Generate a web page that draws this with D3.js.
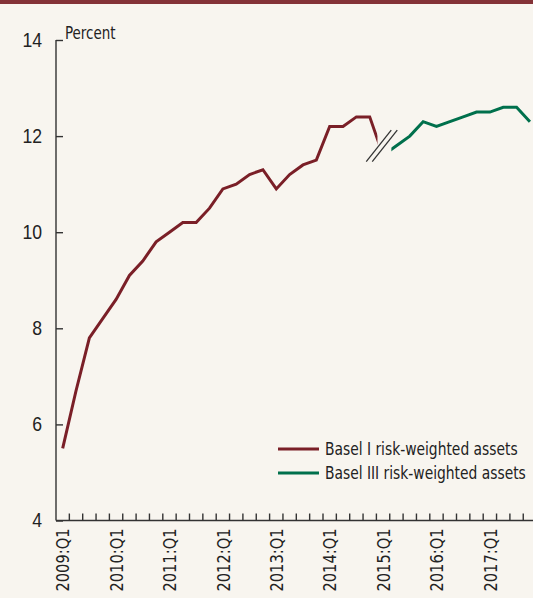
<!DOCTYPE html>
<html>
<head>
<meta charset="utf-8">
<script src="https://cdn.jsdelivr.net/npm/d3@7"></script>
<style>
  body { margin: 0; background: #f8f5ef; }
  svg { display: block; font-family: "Liberation Sans Narrow", "DejaVu Sans Condensed", "Roboto Condensed", sans-serif; }
  .axis path, .axis line { stroke: #333; stroke-width: 1.4; }
  text { fill: #222; }
</style>
</head>
<body>
<svg id="chart"></svg>
<script>
// quarters 2009:Q1 .. 2017:Q4
const years = [2009, 2010, 2011, 2012, 2013, 2014, 2015, 2016, 2017];
const quarters = years.flatMap(y => [1, 2, 3, 4].map(q => y + ':Q' + q));

// Basel I, 2009:Q1 .. 2015:Q1 (last point is cut by the break)
const basel1 = [5.5, 6.7, 7.8, 8.2, 8.6, 9.1, 9.4, 9.8, 10.0, 10.2, 10.2, 10.5,
                10.9, 11.0, 11.2, 11.3, 10.9, 11.2, 11.4, 11.5, 12.2, 12.2, 12.4, 12.4, 11.6];
// Basel III, 2015:Q1 .. 2017:Q4
const basel3 = [11.6, 11.8, 12.0, 12.3, 12.2, 12.3, 12.4, 12.5, 12.5, 12.6, 12.6, 12.3];

const yTicks = [4, 6, 8, 10, 12, 14];
const tickLabels = quarters.filter(q => q.endsWith(':Q1'));

const W = 533, H = 598;
const narrow = 0.88; // squeeze text to look like a condensed face
const svg = d3.select('#chart').attr('width', W).attr('height', H);

svg.append('rect').attr('width', W).attr('height', H).attr('fill', '#f8f5ef');
svg.append('rect').attr('width', W).attr('height', 4).attr('fill', '#843237');

const x = d3.scaleBand().domain(quarters).range([56, 56 + 36 * 13.35]).padding(0);
const y = d3.scaleLinear().domain([4, 14]).range([520.5, 40]);
const cx = q => x(q) + x.bandwidth() / 2;

// x axis: ticks at band edges, labels at band centres
const xg = svg.append('g').attr('class', 'axis')
  .attr('transform', 'translate(0,' + y(4) + ')');
xg.append('line').attr('x1', 56).attr('x2', W).attr('y1', 0).attr('y2', 0);
xg.selectAll('.qt').data(quarters.slice(1)).enter().append('line')
  .attr('class', 'qt')
  .attr('x1', d => x(d)).attr('x2', d => x(d))
  .attr('y1', 0).attr('y2', -7);
xg.selectAll('text').data(tickLabels).enter().append('text')
  .attr('transform', d => 'translate(' + cx(d) + ',8) rotate(-90) scale(' + narrow + ',1)')
  .attr('text-anchor', 'end')
  .attr('dy', '0.36em')
  .style('font-size', '18.5px')
  .text(d => d);

// y axis with inward ticks
const yAxis = d3.axisRight(y).tickValues(yTicks).tickSize(7).tickSizeOuter(0).tickFormat(d3.format('d'));
const yg = svg.append('g').attr('class', 'axis')
  .attr('transform', 'translate(56,0)')
  .call(yAxis);
yg.select('.domain').remove();
yg.append('line').attr('x1', 0).attr('x2', 0).attr('y1', y(14)).attr('y2', y(4));
yg.selectAll('.tick text')
  .attr('x', null)
  .attr('transform', 'translate(-14,0) scale(' + narrow + ',1)')
  .attr('dy', '0.3em')
  .attr('text-anchor', 'end')
  .style('font-size', '20px');

svg.append('text')
  .attr('transform', 'translate(65,39) scale(' + narrow + ',1)')
  .style('font-size', '17px')
  .text('Percent');

// break between the two series
const breakLo = cx('2014:Q4') + 0.58 * x.step();
const breakHi = cx('2015:Q1') + 0.62 * x.step();
const defs = svg.append('defs');
defs.append('clipPath').attr('id', 'clipL').append('rect')
  .attr('x', 0).attr('y', 0).attr('width', breakLo).attr('height', H);
defs.append('clipPath').attr('id', 'clipR').append('rect')
  .attr('x', breakHi).attr('y', 0).attr('width', W - breakHi).attr('height', H);

const line = d3.line().x(d => cx(d.q)).y(d => y(d.v));
const s1 = basel1.map((v, i) => ({ q: quarters[i], v: v }));
const s3 = basel3.map((v, i) => ({ q: quarters[24 + i], v: v }));

svg.append('path').datum(s1)
  .attr('d', line).attr('clip-path', 'url(#clipL)')
  .attr('fill', 'none').attr('stroke', '#7a1f27').attr('stroke-width', 3)
  .attr('stroke-linejoin', 'miter');
svg.append('path').datum(s3)
  .attr('d', line).attr('clip-path', 'url(#clipR)')
  .attr('fill', 'none').attr('stroke', '#00704c').attr('stroke-width', 3)
  .attr('stroke-linejoin', 'miter');

// break marks
const bx = cx('2014:Q4') + 0.9 * x.step(), by = y(11.8);
[-3, 3].forEach(off => {
  svg.append('line')
    .attr('x1', bx + off - 12.5).attr('y1', by + 16)
    .attr('x2', bx + off + 12.5).attr('y2', by - 15.5)
    .attr('stroke', '#333').attr('stroke-width', 1.3);
});

// legend
const legend = [
  { name: 'Basel I risk-weighted assets', color: '#7a1f27' },
  { name: 'Basel III risk-weighted assets', color: '#00704c' }
];
const lg = svg.append('g').attr('transform', 'translate(278,449)');
legend.forEach((d, i) => {
  lg.append('line').attr('x1', 0).attr('x2', 41).attr('y1', i * 24).attr('y2', i * 24)
    .attr('stroke', d.color).attr('stroke-width', 3);
  lg.append('text')
    .attr('transform', 'translate(47,' + (i * 24) + ') scale(' + narrow + ',1)')
    .attr('dy', '0.35em')
    .style('font-size', '17.5px')
    .text(d.name);
});
</script>
</body>
</html>
